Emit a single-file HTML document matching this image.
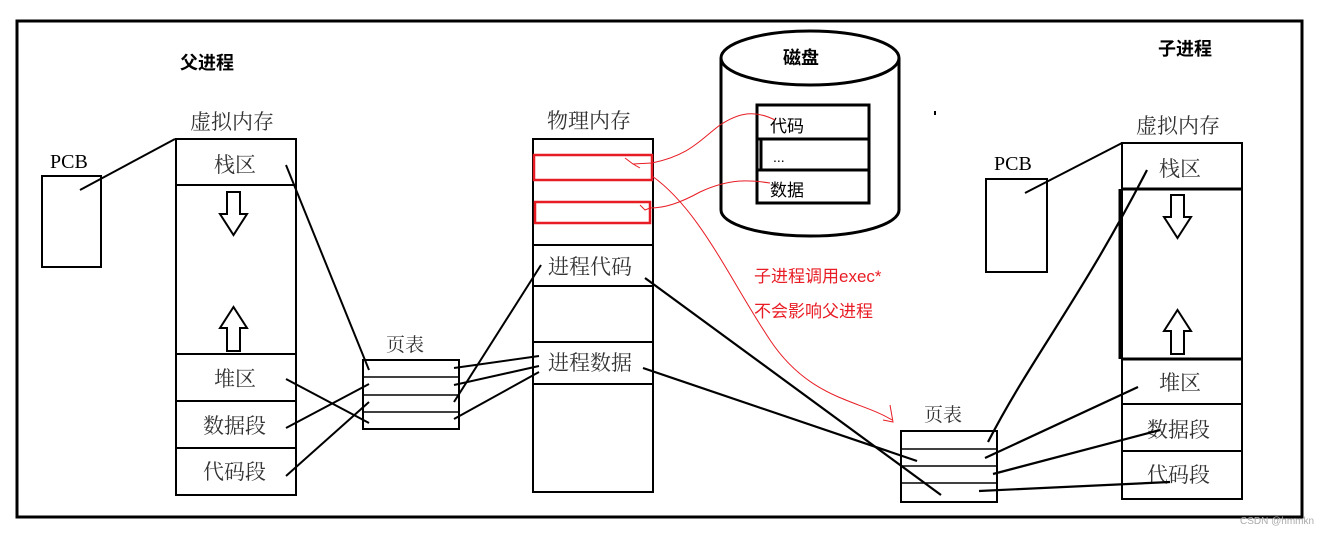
<!DOCTYPE html>
<html><head><meta charset="utf-8"><style>
html,body{margin:0;padding:0;background:#fff;}
svg{display:block;}
text{font-family:"Liberation Serif","Noto Serif CJK SC",serif;}
.s{font-family:"Liberation Sans","Noto Sans CJK SC",sans-serif;}
</style></head><body>
<svg width="1335" height="534" viewBox="0 0 1335 534" xmlns="http://www.w3.org/2000/svg">
<rect x="0" y="0" width="1335" height="534" fill="#fff"/>
<rect x="17" y="21" width="1285" height="496" fill="none" stroke="#000" stroke-width="3"/>

<text class="s" x="180" y="69" font-size="18" font-weight="bold">父进程</text>
<text class="s" x="1158" y="55" font-size="18" font-weight="bold">子进程</text>

<!-- Left PCB -->
<text x="50" y="168" font-size="20">PCB</text>
<rect x="42" y="176" width="59" height="91" fill="none" stroke="#000" stroke-width="2"/>
<line x1="80" y1="190" x2="175" y2="139" stroke="#000" stroke-width="2"/>

<!-- Left VM -->
<text x="190" y="129" font-size="21" fill="#333">虚拟内存</text>
<rect x="176" y="139" width="120" height="356" fill="none" stroke="#000" stroke-width="2"/>
<line x1="176" y1="185" x2="296" y2="185" stroke="#000" stroke-width="2"/>
<line x1="176" y1="354" x2="296" y2="354" stroke="#000" stroke-width="2"/>
<line x1="176" y1="401" x2="296" y2="401" stroke="#000" stroke-width="2"/>
<line x1="176" y1="448" x2="296" y2="448" stroke="#000" stroke-width="2"/>
<text x="214" y="172" font-size="21" fill="#333">栈区</text>
<text x="214" y="386" font-size="21" fill="#333">堆区</text>
<text x="203" y="433" font-size="21" fill="#333">数据段</text>
<text x="203" y="479" font-size="21" fill="#333">代码段</text>
<path d="M227 192 h13 v22 h7 l-13.5 21 l-13.5 -21 h7 z" fill="#fff" stroke="#000" stroke-width="2"/>
<path d="M227 351 h13 v-23 h7 l-13.5 -21 l-13.5 21 h7 z" fill="#fff" stroke="#000" stroke-width="2"/>

<!-- Left page table -->
<text x="386" y="351" font-size="19" fill="#333">页表</text>
<rect x="363" y="360" width="96" height="69" fill="none" stroke="#000" stroke-width="2"/>
<line x1="363" y1="377" x2="459" y2="377" stroke="#000" stroke-width="1.5"/>
<line x1="363" y1="395" x2="459" y2="395" stroke="#000" stroke-width="1.5"/>
<line x1="363" y1="412" x2="459" y2="412" stroke="#000" stroke-width="1.5"/>
<g stroke="#000" stroke-width="2">
<line x1="286" y1="165" x2="369" y2="370"/>
<line x1="286" y1="379" x2="369" y2="423"/>
<line x1="286" y1="428" x2="369" y2="384"/>
<line x1="286" y1="476" x2="369" y2="402"/>
<line x1="454" y1="368" x2="539" y2="356"/>
<line x1="454" y1="385" x2="539" y2="366"/>
<line x1="454" y1="419" x2="539" y2="372"/>
<line x1="454" y1="402" x2="541" y2="265"/>
</g>

<!-- Physical memory -->
<text x="547" y="128" font-size="21" fill="#333">物理内存</text>
<rect x="533" y="139" width="120" height="353" fill="none" stroke="#000" stroke-width="2"/>
<line x1="533" y1="245" x2="653" y2="245" stroke="#000" stroke-width="2"/>
<line x1="533" y1="286" x2="653" y2="286" stroke="#000" stroke-width="2"/>
<line x1="533" y1="342" x2="653" y2="342" stroke="#000" stroke-width="2"/>
<line x1="533" y1="384" x2="653" y2="384" stroke="#000" stroke-width="2"/>
<text x="548" y="274" font-size="21" fill="#333">进程代码</text>
<text x="548" y="370" font-size="21" fill="#333">进程数据</text>
<rect x="534" y="155" width="118" height="25" fill="none" stroke="#e81c24" stroke-width="2.5"/>
<rect x="535" y="202" width="115" height="21" fill="none" stroke="#e81c24" stroke-width="2.5"/>

<!-- Long lines -->
<g stroke="#000" stroke-width="2.2">
<line x1="645" y1="278" x2="941" y2="495"/>
<line x1="643" y1="368" x2="917" y2="461"/>
</g>

<!-- Disk -->
<path d="M721 58 V210 A89 26 0 0 0 899 210 V58" fill="#fff" stroke="#000" stroke-width="3"/>
<ellipse cx="810" cy="58" rx="89" ry="27" fill="#fff" stroke="#000" stroke-width="3"/>
<text class="s" x="783" y="64" font-size="18" font-weight="bold">磁盘</text>
<rect x="757" y="105" width="112" height="98" fill="#fff" stroke="#000" stroke-width="3"/>
<line x1="757" y1="139" x2="869" y2="139" stroke="#000" stroke-width="3"/>
<line x1="757" y1="170" x2="869" y2="170" stroke="#000" stroke-width="3"/>
<line x1="761" y1="139" x2="761" y2="170" stroke="#000" stroke-width="3"/>
<text class="s" x="770" y="132" font-size="17">代码</text>
<text class="s" x="773" y="162" font-size="14">...</text>
<text class="s" x="770" y="196" font-size="17">数据</text>
<rect x="934" y="111" width="2" height="4" fill="#000"/>

<!-- Red curves -->
<g fill="none" stroke="#e81c24" stroke-width="1">
<path d="M775 120 C755 110 740 112 720 125 C700 140 690 155 652 163 L633 164 L625 158 M633 164 L640 168"/>
<path d="M770 183 C750 180 730 178 700 192 C680 203 665 208 650 208 L645 210 L640 205"/>
<path d="M652 176 C700 210 730 280 770 340 C810 400 860 400 892 420"/>
<path d="M890 405 L893 422 L883 420"/>
</g>
<text class="s" x="754" y="282" font-size="17" fill="#e81c24">子进程调用exec*</text>
<text class="s" x="754" y="317" font-size="17" fill="#e81c24">不会影响父进程</text>

<!-- Right PCB -->
<text x="994" y="170" font-size="20">PCB</text>
<rect x="986" y="179" width="61" height="93" fill="none" stroke="#000" stroke-width="2"/>
<line x1="1025" y1="193" x2="1122" y2="143" stroke="#000" stroke-width="2"/>

<!-- Right VM -->
<text x="1136" y="133" font-size="21" fill="#333">虚拟内存</text>
<rect x="1122" y="143" width="120" height="356" fill="none" stroke="#000" stroke-width="2"/>
<line x1="1122" y1="189" x2="1242" y2="189" stroke="#000" stroke-width="3"/>
<line x1="1122" y1="359" x2="1242" y2="359" stroke="#000" stroke-width="3"/>
<line x1="1122" y1="404" x2="1242" y2="404" stroke="#000" stroke-width="2"/>
<line x1="1122" y1="451" x2="1242" y2="451" stroke="#000" stroke-width="2"/>
<line x1="1120" y1="189" x2="1120" y2="359" stroke="#000" stroke-width="3"/>
<text x="1159" y="176" font-size="21" fill="#333">栈区</text>
<text x="1159" y="390" font-size="21" fill="#333">堆区</text>
<text x="1147" y="437" font-size="21" fill="#333">数据段</text>
<text x="1147" y="482" font-size="21" fill="#333">代码段</text>
<path d="M1171 195 h13 v22 h7 l-13.5 21 l-13.5 -21 h7 z" fill="#fff" stroke="#000" stroke-width="2"/>
<path d="M1171 354 h13 v-23 h7 l-13.5 -21 l-13.5 21 h7 z" fill="#fff" stroke="#000" stroke-width="2"/>

<!-- Right page table -->
<text x="924" y="421" font-size="19" fill="#333">页表</text>
<rect x="901" y="431" width="96" height="71" fill="none" stroke="#000" stroke-width="2"/>
<line x1="901" y1="449" x2="997" y2="449" stroke="#000" stroke-width="1.5"/>
<line x1="901" y1="466" x2="997" y2="466" stroke="#000" stroke-width="1.5"/>
<line x1="901" y1="483" x2="997" y2="483" stroke="#000" stroke-width="1.5"/>
<g stroke="#000" stroke-width="2.2">
<path d="M1147 170 C1080 300 1030 360 988 442" fill="none"/>
<line x1="1138" y1="387" x2="985" y2="458"/>
<line x1="1160" y1="430" x2="993" y2="474"/>
<line x1="1170" y1="482" x2="979" y2="491"/>
</g>

<text class="s" x="1240" y="524" font-size="10" fill="#aaa">CSDN @hmmkn</text>
</svg>
</body></html>
